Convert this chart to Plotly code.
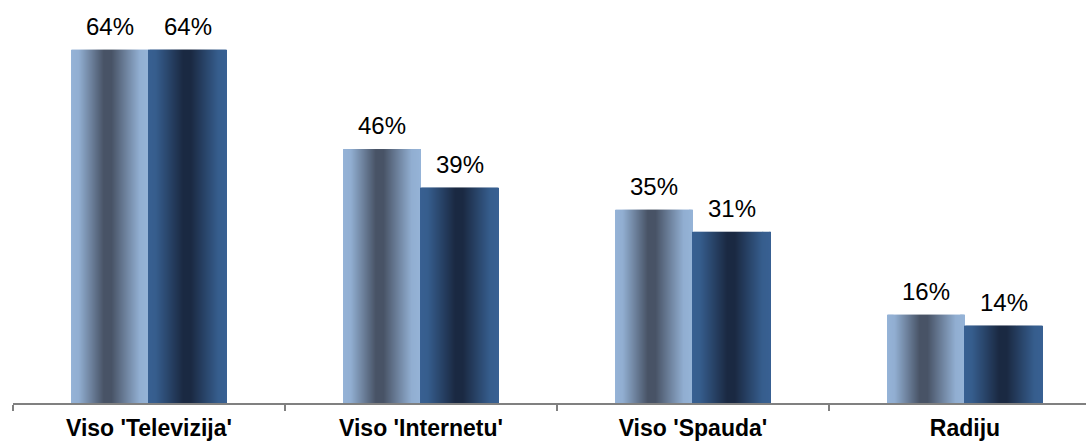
import plotly.graph_objects as go

categories = ["Viso 'Televizija'", "Viso 'Internetu'", "Viso 'Spauda'", "Radiju"]
series_a = [64, 46, 35, 16]
series_b = [64, 39, 31, 14]
labels_a = ["64%", "46%", "35%", "16%"]
labels_b = ["64%", "39%", "31%", "14%"]

# gradient stops (position, rgb) for the cylinder-like shading of each series
grad_a = [(0.0, (149, 179, 215)), (0.10, (145, 174, 209)), (0.42, (72, 83, 102)),
          (0.52, (72, 83, 102)), (0.88, (145, 174, 209)), (1.0, (149, 179, 215))]
grad_b = [(0.0, (56, 96, 146)), (0.10, (54, 93, 141)), (0.45, (26, 41, 66)),
          (0.55, (26, 41, 66)), (0.90, (54, 93, 141)), (1.0, (56, 96, 146))]


def interp(stops, t):
    for (p0, c0), (p1, c1) in zip(stops[:-1], stops[1:]):
        if p0 <= t <= p1:
            f = 0 if p1 == p0 else (t - p0) / (p1 - p0)
            return "rgb(%d,%d,%d)" % tuple(round(a + (b - a) * f) for a, b in zip(c0, c1))
    c = stops[-1][1]
    return "rgb(%d,%d,%d)" % c


BAR_W = 0.285
N = 78
slice_w = BAR_W / N

fig = go.Figure()
for values, stops, base in [(series_a, grad_a, -BAR_W), (series_b, grad_b, 0.0)]:
    for k in range(N):
        t = (k + 0.5) / N
        w = slice_w * (1.6 if k < N - 1 else 1.0)
        fig.add_trace(go.Bar(
            x=categories, y=values, width=w, offset=base + k * slice_w,
            marker=dict(color=interp(stops, t), line=dict(width=0)),
            showlegend=False, hoverinfo="skip"))

for values, labels, shift in [(series_a, labels_a, -BAR_W / 2), (series_b, labels_b, BAR_W / 2)]:
    for i, (cat, v, lab) in enumerate(zip(categories, values, labels)):
        fig.add_annotation(x=i + shift, y=v, text=lab, showarrow=False,
                           xref="x", yref="y", yanchor="bottom", yshift=8,
                           font=dict(family="Liberation Sans, Arial", size=24, color="#000000"))

fig.update_layout(
    width=1086, height=443,
    margin=dict(l=13, r=0, t=0, b=40),
    barmode="overlay",
    plot_bgcolor="white", paper_bgcolor="white",
    xaxis=dict(type="category", categoryorder="array", categoryarray=categories,
               range=[-0.5, 3.445], showline=True, linecolor="#808080", linewidth=1.5,
               ticks="outside", tickson="boundaries", ticklen=6, tickcolor="#808080",
               tickwidth=1.5, showgrid=False, zeroline=False, ticklabelstandoff=4,
               tickfont=dict(family="Liberation Sans, Arial", size=23, color="#000000",
                             weight="bold")),
    yaxis=dict(range=[0, 73.0], visible=False, showgrid=False, zeroline=False),
)

fig.write_html("out.html", config={"displayModeBar": False},
               post_script="document.body.style.margin='0';document.body.style.overflow='hidden';")
